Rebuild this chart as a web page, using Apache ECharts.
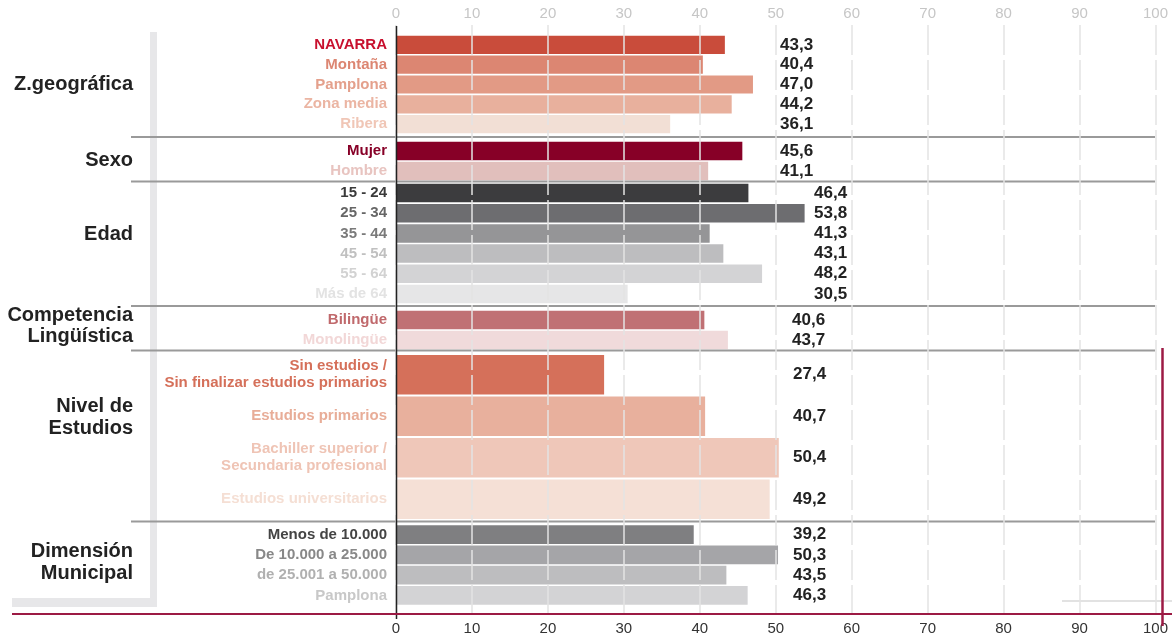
<!DOCTYPE html>
<html>
<head>
<meta charset="utf-8">
<script src="https://cdn.jsdelivr.net/npm/echarts@6/dist/echarts.min.js"></script>
<style>html,body{margin:0;padding:0;background:#fff}#c{width:1172px;height:636px}</style>
</head>
<body>
<div id="c"></div>
<script>
// ---- data ----
var axisTicks = [0, 10, 20, 30, 40, 50, 60, 70, 80, 90, 100];

var zonaCats = ['NAVARRA', 'Montaña', 'Pamplona', 'Zona media', 'Ribera'];
var zonaVals = [43.3, 40.4, 47.0, 44.2, 36.1];

var sexoCats = ['Mujer', 'Hombre'];
var sexoVals = [45.6, 41.1];

var edadCats = ['15 - 24', '25 - 34', '35 - 44', '45 - 54', '55 - 64', 'Más de 64'];
var edadVals = [46.4, 53.8, 41.3, 43.1, 48.2, 30.5];

var compCats = ['Bilingüe', 'Monolingüe'];
var compVals = [40.6, 43.7];

var nivelCats = ['Sin estudios /\nSin finalizar estudios primarios', 'Estudios primarios', 'Bachiller superior /\nSecundaria profesional', 'Estudios universitarios'];
var nivelVals = [27.4, 40.7, 50.4, 49.2];

var dimCats = ['Menos de 10.000', 'De 10.000 a 25.000', 'de 25.001 a 50.000', 'Pamplona'];
var dimVals = [39.2, 50.3, 43.5, 46.3];

var groupNames = ['Z.geográfica', 'Sexo', 'Edad', 'Competencia\nLingüística', 'Nivel de\nEstudios', 'Dimensión\nMunicipal'];

// ---- styles ----
var FONT = "'Liberation Sans', Arial, sans-serif";
var groups = [
  { cats: zonaCats, vals: zonaVals, top: 35, h: 99, gap: '8%', valX: 781, labY: [84],
    bar: ['#c94c3b', '#dc8672', '#e29a85', '#e8b09d', '#f2dfd5'],
    txt: ['#c8102e', '#dc8672', '#e4a08c', '#ebb5a3', '#f0c6b6'] },
  { cats: sexoCats, vals: sexoVals, top: 141, h: 40, gap: '8%', valX: 781, labY: [160],
    bar: ['#870027', '#e1bfbc'], txt: ['#870027', '#e8c4c0'] },
  { cats: edadCats, vals: edadVals, top: 183, h: 121, gap: '8%', valX: 815, labY: [234],
    bar: ['#3c3c3e', '#6d6d70', '#959597', '#bdbdbf', '#d3d3d5', '#e6e6e7'],
    txt: ['#3a3a3a', '#666666', '#7a7a7a', '#c0c0c0', '#d2d2d2', '#e3e3e3'] },
  { cats: compCats, vals: compVals, top: 310, h: 40, gap: '8%', valX: 793, labY: [315, 336],
    bar: ['#c07174', '#f0dadb'], txt: ['#c0696c', '#f2d7d7'] },
  { cats: nivelCats, vals: nivelVals, top: 354, h: 166, gap: '5%', valX: 794, labY: [406, 428],
    bar: ['#d5705a', '#e8b09d', '#efc7b9', '#f5e0d6'],
    txt: ['#d5705a', '#e8ad98', '#efc4b5', '#f5dfd4'] },
  { cats: dimCats, vals: dimVals, top: 524.5, h: 81, gap: '8%', valX: 794, labY: [551, 573],
    bar: ['#7f7f81', '#a5a5a8', '#bdbdbf', '#d3d3d5'],
    txt: ['#444444', '#888888', '#b0b0b0', '#c8c8c8'] }
];

var GL = 396, GR = 1172 - 1155.5;

var grid = [{ left: GL, right: GR, top: 25, bottom: 22 }];
var xAxis = [
  { gridIndex: 0, type: 'value', min: 0, max: 100, interval: 10, position: 'top', z: 10,
    axisLine: { show: false }, axisTick: { show: false },
    axisLabel: { color: '#c6c6c6', fontSize: 15, fontFamily: FONT, margin: 4 },
    splitLine: { show: true, lineStyle: { color: '#e4e4e4', width: 1.5, type: [30, 5] } } },
  { gridIndex: 0, type: 'value', min: 0, max: 100, interval: 10, position: 'bottom',
    axisLine: { show: false }, axisTick: { show: false }, splitLine: { show: false },
    axisLabel: { color: '#333', fontSize: 15, fontFamily: FONT, margin: 7 } }
];
var yAxis = [{ gridIndex: 0, type: 'value', min: 0, max: 1, show: false }];
var series = [];
var graphic = [];

groups.forEach(function (g, i) {
  var gi = i + 1;
  grid.push({ left: GL, right: GR, top: g.top, height: g.h });
  xAxis.push({ gridIndex: gi, type: 'value', min: 0, max: 100, show: false });
  yAxis.push({ gridIndex: gi, type: 'category', inverse: true, data: g.cats,
    axisLine: { show: false }, axisTick: { show: false }, splitLine: { show: false },
    axisLabel: { interval: 0, fontFamily: FONT, fontSize: 15, fontWeight: 'bold', margin: 9, lineHeight: 17,
      color: (function (cols) { return function (v, idx) { return cols[idx]; }; })(g.txt) } });
  series.push({ type: 'bar', xAxisIndex: gi + 1, yAxisIndex: gi, barCategoryGap: g.gap,
    data: g.vals.map(function (v, k) { return { value: v, itemStyle: { color: g.bar[k] } }; }),
    label: { show: true, position: [g.valX - GL - 1, '50%'], align: 'left', verticalAlign: 'middle',
      fontFamily: FONT, fontSize: 17, fontWeight: 'bold', color: '#222',
      formatter: function (p) { return p.value.toFixed(1).replace('.', ','); } } });
  var lines = groupNames[i].split('\n');
  lines.forEach(function (t, k) {
    graphic.push({ type: 'text', x: 133, y: g.labY[k],
      style: { text: t, font: 'bold 20px ' + FONT, fill: '#222', align: 'right', verticalAlign: 'middle' }, z: 5 });
  });
});

graphic.push({ type: 'rect', shape: { x: 150, y: 32, width: 7, height: 575 }, style: { fill: '#e7e7e9' }, z: 0 });
graphic.push({ type: 'rect', shape: { x: 12, y: 598, width: 145, height: 9 }, style: { fill: '#e7e7e9' }, z: 0 });
[137, 181.5, 306, 350.5, 521.5].forEach(function (y) {
  graphic.push({ type: 'line', shape: { x1: 131, y1: y, x2: 1155, y2: y }, style: { stroke: '#9a9a9a', lineWidth: 2 }, z: 4 });
});
graphic.push({ type: 'line', shape: { x1: 1062, y1: 601, x2: 1172, y2: 601 }, style: { stroke: '#e2e2e2', lineWidth: 2 }, z: 4 });
graphic.push({ type: 'line', shape: { x1: 396.5, y1: 26, x2: 396.5, y2: 619 }, style: { stroke: '#222', lineWidth: 1.5 }, z: 20 });
graphic.push({ type: 'line', shape: { x1: 12, y1: 614, x2: 1172, y2: 614 }, style: { stroke: '#9c1a44', lineWidth: 2 }, z: 21 });
graphic.push({ type: 'line', shape: { x1: 1162.5, y1: 348, x2: 1162.5, y2: 626 }, style: { stroke: '#9c1a44', lineWidth: 2.5 }, z: 21 });

var chart = echarts.init(document.getElementById('c'), null, { renderer: 'canvas' });
chart.setOption({
  animation: false,
  backgroundColor: '#fff',
  textStyle: { fontFamily: FONT },
  grid: grid, xAxis: xAxis, yAxis: yAxis, series: series, graphic: graphic
});
</script>
</body>
</html>
